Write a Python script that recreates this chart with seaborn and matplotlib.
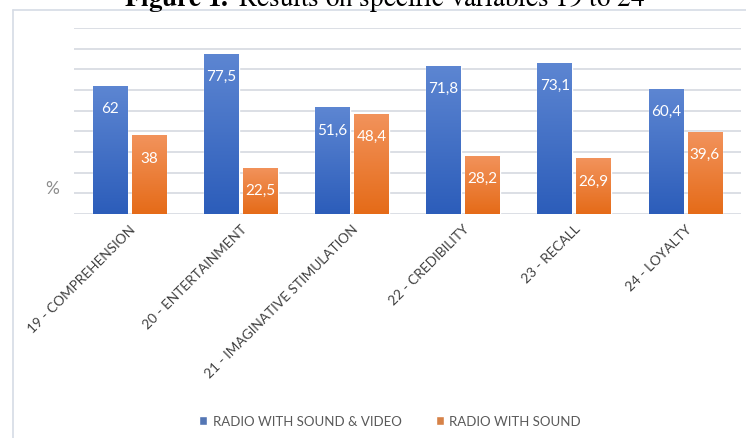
import numpy as np
import pandas as pd
import seaborn as sns
import matplotlib.pyplot as plt
from matplotlib.colors import LinearSegmentedColormap
from matplotlib.lines import Line2D

# Data
variables = ["19 - COMPREHENSION", "20 - ENTERTAINMENT", "21 - IMAGINATIVE STIMULATION",
             "22 - CREDIBILITY", "23 - RECALL", "24 - LOYALTY"]
series = ["RADIO WITH SOUND & VIDEO", "RADIO WITH SOUND"]
sound_video = [62, 77.5, 51.6, 71.8, 73.1, 60.4]
sound_only = [38, 22.5, 48.4, 28.2, 26.9, 39.6]

df = pd.DataFrame({
    "variable": variables * 2,
    "series": [series[0]] * 6 + [series[1]] * 6,
    "value": sound_video + sound_only,
})

sns.set_style("white")
plt.rcParams["font.family"] = ["Lato", "DejaVu Sans"]
plt.rcParams["mathtext.fontset"] = "stix"

fig = plt.figure(figsize=(7.46, 4.39), dpi=100)
ax = fig.add_axes([74 / 746, 1 - 215 / 439, (741 - 74) / 746, (215 - 29) / 439])

colors = ["#4472C4", "#ED7D31"]
grads = [("#5D86D2", "#2C5DBA"), ("#F2935C", "#E56B18")]
sns.barplot(data=df, x="variable", y="value", hue="series", palette=colors,
            width=0.70, gap=0.11, ax=ax, legend=True)

# vertical gradient fill on each bar
for cont, (top, bot) in zip(ax.containers, grads):
    cmap = LinearSegmentedColormap.from_list("g", [top, bot])
    for p in cont:
        x0, w, h = p.get_x(), p.get_width(), p.get_height()
        im = ax.imshow(np.linspace(0, 1, 256).reshape(-1, 1), cmap=cmap, aspect="auto",
                       extent=[x0, x0 + w, 0, h], zorder=p.get_zorder() + 0.1)
        im.set_clip_path(p)

for cont, vals in zip(ax.containers, [sound_video, sound_only]):
    labels = [f"{v:g}".replace(".", ",") for v in vals]
    ax.bar_label(cont, labels=labels, label_type="edge", padding=-21,
                 color="white", fontsize=11, zorder=5)

ax.set_xlim(-0.5, 5.5)
ax.set_ylim(0, 90)
ax.set_yticks(np.arange(0, 91, 10))
ax.set_yticklabels([])
ax.tick_params(axis="y", length=0)
ax.yaxis.grid(True, color="#D9DCE3", linewidth=1.3)
ax.set_axisbelow(True)
for s in ax.spines.values():
    s.set_visible(False)
ax.set_xlabel("")
ax.set_ylabel("")
ax.tick_params(axis="x", length=0, pad=6)
plt.setp(ax.get_xticklabels(), rotation=45, ha="right", rotation_mode="anchor",
         fontsize=9.8, color="#404040")

fig.text(52 / 746, 1 - 189 / 439, "%", fontsize=12.5, color="#8C8C8C", ha="center", va="center")

leg = ax.legend(loc="center", bbox_to_anchor=(390 / 746, 1 - 422 / 439),
                bbox_transform=fig.transFigure, ncol=2, frameon=False,
                handlelength=0.6, handleheight=0.6, handletextpad=0.4,
                columnspacing=2.6, fontsize=9.5)
for t in leg.get_texts():
    t.set_color("#595959")

# outer chart frame (top and left edges visible)
fig.add_artist(Line2D([13 / 746, 1], [1 - 11 / 439] * 2, transform=fig.transFigure,
                      color="#D6DCE5", linewidth=1.2))
fig.add_artist(Line2D([13 / 746] * 2, [0, 1 - 11 / 439], transform=fig.transFigure,
                      color="#D6DCE5", linewidth=1.2))

# title, cut off at the top edge as in the source
fig.text(385 / 746, 1 - 6 / 439, "$\\mathbf{Figure\\ 1.}$ Results on specific variables 19 to 24",
         fontsize=19.5, family="STIXGeneral", ha="center", va="baseline", color="black")

fig.savefig("out.png", dpi=100)
